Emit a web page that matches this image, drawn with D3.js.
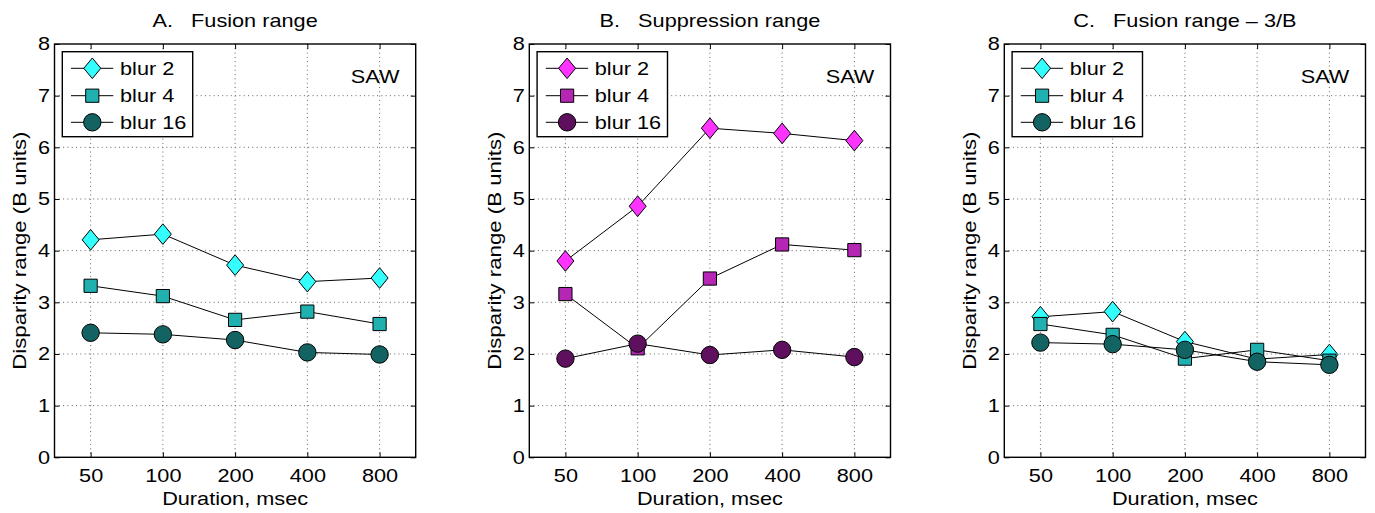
<!DOCTYPE html>
<html>
<head>
<meta charset="utf-8">
<script src="https://cdn.jsdelivr.net/npm/d3@7"></script>
<style>
  html, body { margin: 0; padding: 0; background: #fff; }
  svg { display: block; font-family: "Liberation Sans", Arial, Helvetica, sans-serif; }
</style>
</head>
<body>
<svg id="chart" width="1375" height="513"></svg>
<script>
// ---------------- data ----------------
const durations = [50, 100, 200, 400, 800];
const yTickValues = [0, 1, 2, 3, 4, 5, 6, 7, 8];
const seriesNames = ["blur 2", "blur 4", "blur 16"];
const markerShapes = ["diamond", "square", "circle"];
const panelTitles = ["A.\u00A0\u00A0\u00A0Fusion range", "B.\u00A0\u00A0\u00A0Suppression range", "C.\u00A0\u00A0\u00A0Fusion range \u2013 3/B"];
const cornerLabel = "SAW";
const xAxisLabel = "Duration, msec";
const yAxisLabel = "Disparity range (B units)";

const fusionBlur2  = [4.21, 4.32, 3.72, 3.40, 3.47];
const fusionBlur4  = [3.32, 3.12, 2.66, 2.82, 2.58];
const fusionBlur16 = [2.41, 2.38, 2.27, 2.03, 1.99];

const suppressionBlur2  = [3.80, 4.86, 6.37, 6.27, 6.13];
const suppressionBlur4  = [3.16, 2.11, 3.46, 4.12, 4.01];
const suppressionBlur16 = [1.91, 2.20, 1.98, 2.08, 1.94];

const fusion3BBlur2  = [2.72, 2.82, 2.24, 1.90, 1.99];
const fusion3BBlur4  = [2.58, 2.37, 1.91, 2.08, 1.87];
const fusion3BBlur16 = [2.22, 2.19, 2.08, 1.85, 1.79];

const tealColors    = ["#33FFFF", "#20B0B0", "#136363"];
const magentaColors = ["#FF33FF", "#B526B5", "#5E0F5E"];

const panels = [
  { title: panelTitles[0], series: [fusionBlur2, fusionBlur4, fusionBlur16], colors: tealColors },
  { title: panelTitles[1], series: [suppressionBlur2, suppressionBlur4, suppressionBlur16], colors: magentaColors },
  { title: panelTitles[2], series: [fusion3BBlur2, fusion3BBlur4, fusion3BBlur16], colors: tealColors }
];

// ---------------- layout ----------------
const panelLefts = [54.5, 529.3, 1004.3];
const plotW = 361.2;
const plotTop = 44;
const plotBottom = 457.3;
const plotH = plotBottom - plotTop;
const fontSize = 17.8;
const sx = 1.22; // glyph stretch along the text direction seen in the reference

const svg = d3.select("#chart");

function markerPath(shape) {
  if (shape === "diamond") {
    const hw = 8.5, hh = 10.3;
    return `M0,${-hh}L${hw},0L0,${hh}L${-hw},0Z`;
  } else if (shape === "square") {
    const s = 6.6;
    return `M${-s},${-s}H${s}V${s}H${-s}Z`;
  } else {
    const r = 8.7;
    return `M${r},0A${r},${r} 0 1,1 ${-r},0A${r},${r} 0 1,1 ${r},0Z`;
  }
}

function addText(parent, x, y, str, anchor, rot, fs, sxx) {
  const t = parent.append("text")
    .attr("transform", `translate(${x},${y})${rot ? ` rotate(${rot})` : ""} scale(${sxx || sx},1)`)
    .attr("text-anchor", anchor || "start")
    .attr("font-size", fs || fontSize)
    .attr("fill", "#000")
    .text(str);
  return t;
}

panels.forEach((p, pi) => {
  const g = svg.append("g").attr("transform", `translate(${panelLefts[pi]},${plotTop})`);

  const x = d3.scaleLog().base(2)
    .domain([durations[0] / Math.SQRT2, durations[durations.length - 1] * Math.SQRT2])
    .range([0, plotW]);
  const y = d3.scaleLinear().domain([0, 8]).range([plotH, 0]);

  // grid
  const grid = g.append("g").attr("stroke", "#333").attr("stroke-width", 1)
    .attr("stroke-dasharray", "1,3.3").attr("opacity", 0.75);
  yTickValues.filter(v => v > 0 && v < 8).forEach(v => {
    grid.append("line").attr("x1", 0).attr("x2", plotW)
      .attr("y1", y(v)).attr("y2", y(v));
  });
  durations.forEach(d => {
    grid.append("line").attr("x1", x(d)).attr("x2", x(d))
      .attr("y1", 0).attr("y2", plotH);
  });

  // axes
  const axisStyle = sel => {
    sel.select(".domain").remove();
    sel.selectAll("line").attr("stroke", "#000").attr("stroke-width", 1);
    sel.selectAll("text").each(function () {
      const t = d3.select(this);
      const tx = +t.attr("x") || 0, ty = +t.attr("y") || 0;
      t.attr("x", null).attr("y", null)
        .attr("transform", `translate(${tx},${ty}) scale(${sx},1)`)
        .attr("font-size", fontSize).attr("fill", "#000")
        .attr("font-family", "'Liberation Sans', Arial, Helvetica, sans-serif");
    });
  };
  g.append("g").attr("transform", `translate(0,${plotH})`)
    .call(d3.axisBottom(x).tickValues(durations).tickFormat(d3.format("d")).tickSize(-5).tickPadding(11.8))
    .call(axisStyle);
  g.append("g")
    .call(d3.axisTop(x).tickValues(durations).tickFormat("").tickSize(-5))
    .call(axisStyle);
  g.append("g")
    .call(d3.axisLeft(y).tickValues(yTickValues).tickFormat(d3.format("d")).tickSize(-5).tickPadding(4.5))
    .call(axisStyle);
  g.append("g").attr("transform", `translate(${plotW},0)`)
    .call(d3.axisRight(y).tickValues(yTickValues).tickFormat("").tickSize(-5))
    .call(axisStyle);

  // box
  g.append("rect").attr("x", 0).attr("y", 0).attr("width", plotW).attr("height", plotH)
    .attr("fill", "none").attr("stroke", "#000").attr("stroke-width", 1.4);

  // series
  const line = d3.line().x((d, i) => x(durations[i])).y(d => y(d));
  p.series.forEach((vals, si) => {
    const sg = g.append("g");
    sg.append("path").datum(vals).attr("d", line)
      .attr("fill", "none").attr("stroke", "#000").attr("stroke-width", 1);
    sg.selectAll("path.mk").data(vals).join("path").attr("class", "mk")
      .attr("d", markerPath(markerShapes[si]))
      .attr("transform", (d, i) => `translate(${x(durations[i])},${y(d)})`)
      .attr("fill", p.colors[si]).attr("stroke", "#000").attr("stroke-width", 1);
  });

  // legend
  const lg = g.append("g").attr("transform", "translate(7.8,7.7)");
  lg.append("rect").attr("x", 0).attr("y", 0).attr("width", 130.4).attr("height", 85)
    .attr("fill", "#fff").attr("stroke", "#000").attr("stroke-width", 1.4);
  const rowY = [16.6, 44, 70.6];
  seriesNames.forEach((name, si) => {
    lg.append("line").attr("x1", 8.7).attr("x2", 51).attr("y1", rowY[si]).attr("y2", rowY[si])
      .attr("stroke", "#000").attr("stroke-width", 1);
    lg.append("path").attr("d", markerPath(markerShapes[si]))
      .attr("transform", `translate(30,${rowY[si]})`)
      .attr("fill", p.colors[si]).attr("stroke", "#000").attr("stroke-width", 1);
    addText(lg, 57.7, rowY[si] + 6.6, name, "start");
  });

  // corner label
  addText(g, plotW - 16.2, 83 - plotTop, cornerLabel, "end");

  // title
  addText(g, plotW / 2, 27 - plotTop, p.title, "middle");

  // x label
  addText(g, plotW / 2, 505 - plotTop, xAxisLabel, "middle");

  // y label
  addText(g, -28.5, plotH / 2, yAxisLabel, "middle", -90, 19, 1.17);
});
</script>
</body>
</html>
